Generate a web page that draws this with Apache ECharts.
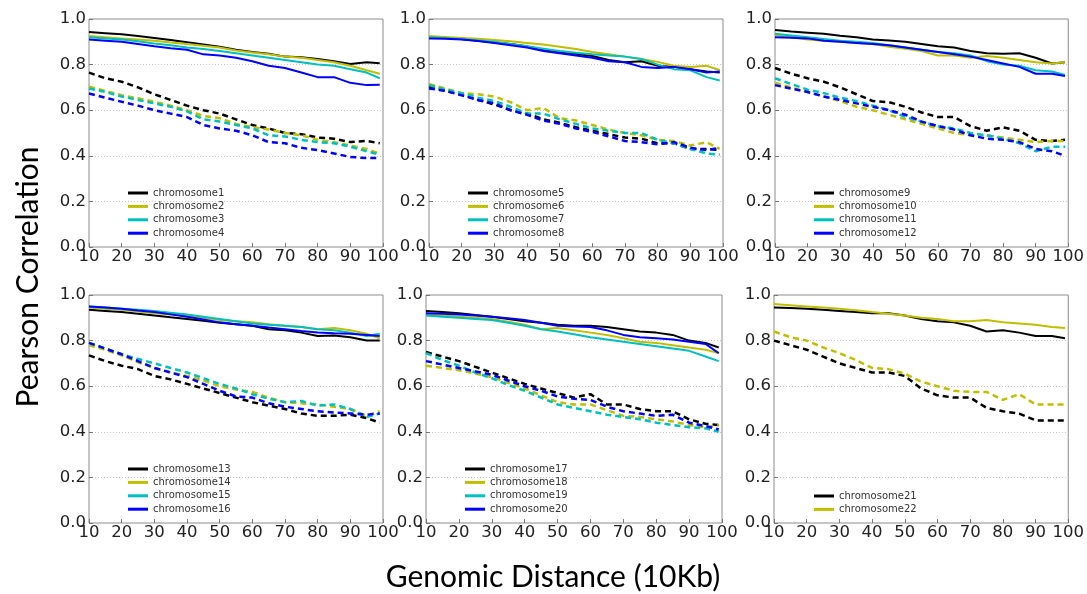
<!DOCTYPE html>
<html>
<head>
<meta charset="utf-8">
<script src="https://cdn.jsdelivr.net/npm/echarts@6/dist/echarts.min.js"></script>
<style>html,body{margin:0;padding:0;background:#fff;}#main{width:1087px;height:594px;}</style>
</head>
<body>
<div id="main"></div>
<script>
// Genomic distance (10Kb) sample positions
const xs = [10,15,20,25,30,35,40,45,50,55,60,65,70,75,80,85,90,95,99];
const yTicks = [0, 0.2, 0.4, 0.6, 0.8, 1.0];

// solid lines (s) and dashed lines (d) per chromosome
const c1s = [0.943,0.938,0.933,0.925,0.917,0.908,0.898,0.888,0.878,0.865,0.855,0.848,0.835,0.832,0.825,0.815,0.803,0.81,0.806];
const c2s = [0.925,0.92,0.915,0.91,0.905,0.897,0.89,0.883,0.875,0.862,0.853,0.845,0.835,0.83,0.82,0.81,0.795,0.775,0.76];
const c3s = [0.92,0.915,0.91,0.902,0.893,0.885,0.875,0.868,0.86,0.85,0.84,0.83,0.82,0.81,0.80,0.795,0.78,0.765,0.74];
const c4s = [0.91,0.905,0.9,0.89,0.88,0.872,0.865,0.845,0.84,0.83,0.815,0.795,0.785,0.765,0.745,0.745,0.72,0.71,0.712];
const c1d = [0.765,0.74,0.725,0.7,0.67,0.645,0.62,0.6,0.585,0.56,0.535,0.52,0.5,0.495,0.48,0.475,0.46,0.465,0.455];
const c2d = [0.703,0.685,0.666,0.652,0.637,0.62,0.6,0.575,0.565,0.54,0.525,0.515,0.5,0.49,0.47,0.46,0.445,0.43,0.41];
const c3d = [0.695,0.68,0.66,0.645,0.63,0.615,0.595,0.56,0.55,0.535,0.52,0.49,0.485,0.47,0.46,0.455,0.44,0.42,0.405];
const c4d = [0.673,0.655,0.637,0.62,0.6,0.585,0.57,0.535,0.52,0.51,0.49,0.46,0.455,0.435,0.425,0.41,0.395,0.39,0.39];

const c5s = [0.92,0.917,0.912,0.905,0.897,0.89,0.88,0.865,0.855,0.848,0.838,0.82,0.81,0.815,0.795,0.79,0.78,0.77,0.765];
const c6s = [0.925,0.921,0.917,0.913,0.908,0.902,0.895,0.888,0.878,0.868,0.855,0.845,0.835,0.825,0.812,0.795,0.79,0.795,0.775];
const c7s = [0.92,0.916,0.912,0.906,0.9,0.89,0.88,0.87,0.86,0.852,0.845,0.84,0.835,0.825,0.8,0.78,0.775,0.745,0.73];
const c8s = [0.915,0.913,0.91,0.903,0.895,0.885,0.875,0.86,0.85,0.84,0.83,0.815,0.81,0.79,0.785,0.79,0.78,0.765,0.77];
const c5d = [0.705,0.685,0.67,0.645,0.625,0.6,0.585,0.56,0.545,0.525,0.51,0.495,0.48,0.475,0.455,0.455,0.43,0.43,0.425];
const c6d = [0.715,0.695,0.675,0.67,0.66,0.635,0.6,0.61,0.565,0.555,0.535,0.515,0.5,0.49,0.47,0.465,0.445,0.46,0.43];
const c7d = [0.71,0.69,0.675,0.655,0.64,0.615,0.585,0.585,0.56,0.54,0.52,0.51,0.5,0.5,0.47,0.455,0.43,0.41,0.405];
const c8d = [0.695,0.685,0.665,0.645,0.63,0.6,0.58,0.555,0.54,0.52,0.505,0.485,0.465,0.46,0.45,0.46,0.435,0.425,0.435];

const c9s  = [0.952,0.945,0.94,0.935,0.927,0.92,0.91,0.906,0.9,0.89,0.88,0.875,0.86,0.85,0.848,0.85,0.83,0.805,0.81];
const c10s = [0.93,0.92,0.91,0.905,0.9,0.895,0.89,0.878,0.87,0.86,0.84,0.84,0.83,0.838,0.83,0.82,0.81,0.805,0.81];
const c11s = [0.935,0.928,0.92,0.912,0.905,0.9,0.895,0.885,0.875,0.865,0.855,0.85,0.84,0.815,0.8,0.795,0.775,0.77,0.755];
const c12s = [0.92,0.918,0.915,0.905,0.9,0.895,0.89,0.885,0.875,0.865,0.855,0.845,0.835,0.82,0.805,0.79,0.76,0.76,0.75];
const c9d  = [0.785,0.76,0.74,0.725,0.7,0.67,0.64,0.635,0.615,0.59,0.57,0.57,0.53,0.51,0.525,0.51,0.47,0.465,0.47];
const c10d = [0.72,0.7,0.68,0.66,0.64,0.615,0.6,0.58,0.56,0.54,0.52,0.5,0.49,0.49,0.48,0.47,0.46,0.465,0.465];
const c11d = [0.74,0.715,0.69,0.675,0.655,0.64,0.62,0.6,0.57,0.55,0.53,0.52,0.5,0.49,0.475,0.455,0.42,0.44,0.44];
const c12d = [0.71,0.695,0.68,0.66,0.645,0.63,0.615,0.6,0.58,0.55,0.53,0.515,0.49,0.475,0.47,0.46,0.43,0.42,0.4];

const c13s = [0.935,0.93,0.925,0.918,0.91,0.902,0.895,0.887,0.878,0.872,0.865,0.85,0.845,0.835,0.82,0.822,0.815,0.8,0.8];
const c14s = [0.945,0.94,0.935,0.928,0.92,0.915,0.91,0.9,0.89,0.885,0.88,0.872,0.865,0.86,0.85,0.855,0.845,0.83,0.81];
const c15s = [0.95,0.945,0.94,0.935,0.93,0.922,0.915,0.905,0.895,0.885,0.875,0.87,0.865,0.86,0.85,0.845,0.835,0.82,0.83];
const c16s = [0.95,0.945,0.94,0.932,0.925,0.915,0.905,0.893,0.88,0.872,0.865,0.857,0.85,0.842,0.835,0.832,0.83,0.825,0.82];
const c13d = [0.735,0.71,0.69,0.675,0.645,0.63,0.61,0.59,0.57,0.55,0.53,0.515,0.5,0.48,0.47,0.47,0.475,0.46,0.44];
const c14d = [0.78,0.76,0.735,0.705,0.68,0.66,0.645,0.625,0.6,0.585,0.575,0.55,0.53,0.525,0.52,0.51,0.5,0.47,0.49];
const c15d = [0.79,0.765,0.74,0.72,0.7,0.68,0.66,0.635,0.61,0.59,0.565,0.545,0.53,0.535,0.515,0.52,0.5,0.465,0.48];
const c16d = [0.79,0.765,0.74,0.71,0.68,0.66,0.64,0.61,0.58,0.555,0.55,0.525,0.51,0.5,0.49,0.485,0.48,0.475,0.48];

const c17s = [0.93,0.925,0.92,0.912,0.905,0.895,0.885,0.878,0.87,0.865,0.865,0.86,0.85,0.84,0.835,0.825,0.8,0.79,0.77];
const c18s = [0.915,0.91,0.905,0.9,0.895,0.883,0.87,0.85,0.855,0.845,0.835,0.825,0.81,0.795,0.79,0.78,0.77,0.76,0.745];
const c19s = [0.91,0.905,0.9,0.895,0.89,0.878,0.865,0.85,0.84,0.828,0.815,0.805,0.795,0.785,0.775,0.765,0.755,0.73,0.71];
const c20s = [0.92,0.918,0.915,0.91,0.905,0.898,0.89,0.878,0.865,0.862,0.86,0.845,0.825,0.815,0.81,0.805,0.795,0.785,0.745];
const c17d = [0.75,0.73,0.71,0.685,0.66,0.635,0.61,0.59,0.57,0.55,0.565,0.52,0.52,0.5,0.49,0.49,0.455,0.435,0.43];
const c18d = [0.69,0.68,0.67,0.655,0.64,0.615,0.59,0.56,0.53,0.52,0.52,0.495,0.47,0.465,0.455,0.445,0.43,0.42,0.43];
const c19d = [0.745,0.715,0.69,0.66,0.635,0.605,0.58,0.55,0.52,0.505,0.49,0.475,0.465,0.455,0.44,0.43,0.42,0.415,0.4];
const c20d = [0.71,0.695,0.68,0.665,0.65,0.625,0.6,0.58,0.555,0.545,0.54,0.51,0.49,0.48,0.47,0.475,0.44,0.425,0.41];

const c21s = [0.945,0.943,0.94,0.935,0.93,0.925,0.92,0.92,0.91,0.895,0.885,0.88,0.865,0.84,0.845,0.835,0.82,0.82,0.81];
const c22s = [0.96,0.955,0.95,0.945,0.94,0.933,0.925,0.918,0.91,0.9,0.895,0.885,0.885,0.89,0.88,0.875,0.87,0.86,0.855];
const c21d = [0.8,0.78,0.76,0.73,0.7,0.68,0.66,0.66,0.645,0.59,0.56,0.55,0.55,0.505,0.49,0.48,0.45,0.45,0.45];
const c22d = [0.84,0.815,0.8,0.77,0.745,0.715,0.68,0.675,0.655,0.62,0.6,0.58,0.575,0.575,0.54,0.565,0.52,0.52,0.52];

const panelNames = [
  ['chromosome1','chromosome2','chromosome3','chromosome4'],
  ['chromosome5','chromosome6','chromosome7','chromosome8'],
  ['chromosome9','chromosome10','chromosome11','chromosome12'],
  ['chromosome13','chromosome14','chromosome15','chromosome16'],
  ['chromosome17','chromosome18','chromosome19','chromosome20'],
  ['chromosome21','chromosome22']
];
const solidData = [[c1s,c2s,c3s,c4s],[c5s,c6s,c7s,c8s],[c9s,c10s,c11s,c12s],[c13s,c14s,c15s,c16s],[c17s,c18s,c19s,c20s],[c21s,c22s]];
const dashedData = [[c1d,c2d,c3d,c4d],[c5d,c6d,c7d,c8d],[c9d,c10d,c11d,c12d],[c13d,c14d,c15d,c16d],[c17d,c18d,c19d,c20d],[c21d,c22d]];
const lineColors = ['#000000','#bfbf00','#00bfbf','#0000ff'];

// layout
const grids = [
  {left:89, top:19, width:294, height:228},
  {left:429, top:19, width:294, height:228},
  {left:775, top:19, width:294, height:228},
  {left:89, top:295, width:294, height:228},
  {left:426, top:295, width:296, height:228},
  {left:774, top:295, width:296, height:228}
];
const legendPos = [
  {left:128, top:187},{left:468, top:187},{left:814, top:187},
  {left:128, top:463},{left:465, top:463},{left:814, top:490}
];

const chart = echarts.init(document.getElementById('main'), null, {renderer:'canvas'});
const option = {
  animation:false,
  backgroundColor:'#ffffff',
  grid: grids.map(g => Object.assign({show:true, borderColor:'#8c8c8c', borderWidth:1, backgroundColor:'transparent'}, g)),
  xAxis: grids.map((g,i) => ({
    type:'value', gridIndex:i, min:10, max:100, interval:10,
    axisLine:{show:false},
    axisTick:{show:true, inside:true, length:4, lineStyle:{color:'#777'}},
    splitLine:{show:false},
    axisLabel:{fontSize:16.5, color:'#222', fontFamily:'DejaVu Sans', margin:1, showMinLabel:true, showMaxLabel:true}
  })),
  yAxis: grids.map((g,i) => ({
    type:'value', gridIndex:i, min:0, max:1, interval:0.2,
    axisLine:{show:false},
    axisTick:{show:true, inside:true, length:4, lineStyle:{color:'#777'}},
    splitLine:{show:true, lineStyle:{color:'#c8c8c8', type:[1,2], width:1}},
    axisLabel:{fontSize:16.5, color:'#222', fontFamily:'DejaVu Sans', margin:3, formatter:v => v.toFixed(1)}
  })),
  legend: panelNames.map((names,i) => ({
    data:names, orient:'vertical', left:legendPos[i].left, top:legendPos[i].top,
    padding:0, itemGap:1.4, itemWidth:20, itemHeight:3, icon:'rect',
    selectedMode:false,
    textStyle:{fontSize:10, color:'#333', fontFamily:'DejaVu Sans', lineHeight:12}
  })),
  graphic: [
    {type:'text', x:28, y:277, rotation:Math.PI/2, style:{text:'Pearson Correlation', font:'30px Lato', fill:'#000', align:'center', verticalAlign:'middle'}},
    {type:'text', x:553, y:577, style:{text:'Genomic Distance (10Kb)', font:'30px Lato', fill:'#000', align:'center', verticalAlign:'middle'}}
  ],
  series: []
};

panelNames.forEach((names,p) => {
  names.forEach((name,k) => {
    const col = lineColors[k];
    option.series.push({
      type:'line', name:name + ' ', xAxisIndex:p, yAxisIndex:p, showSymbol:false, symbol:'none', silent:true,
      data: xs.map((x,j) => [x, dashedData[p][k][j]]),
      itemStyle:{color:col},
      lineStyle:{color:col, width:2.5, type:[6,4]}
    });
  });
  names.forEach((name,k) => {
    const col = lineColors[k];
    option.series.push({
      type:'line', name:name, xAxisIndex:p, yAxisIndex:p, showSymbol:false, symbol:'none', silent:true,
      data: xs.map((x,j) => [x, solidData[p][k][j]]),
      itemStyle:{color:col},
      lineStyle:{color:col, width:2}
    });
  });
});

chart.setOption(option);
</script>
</body>
</html>
